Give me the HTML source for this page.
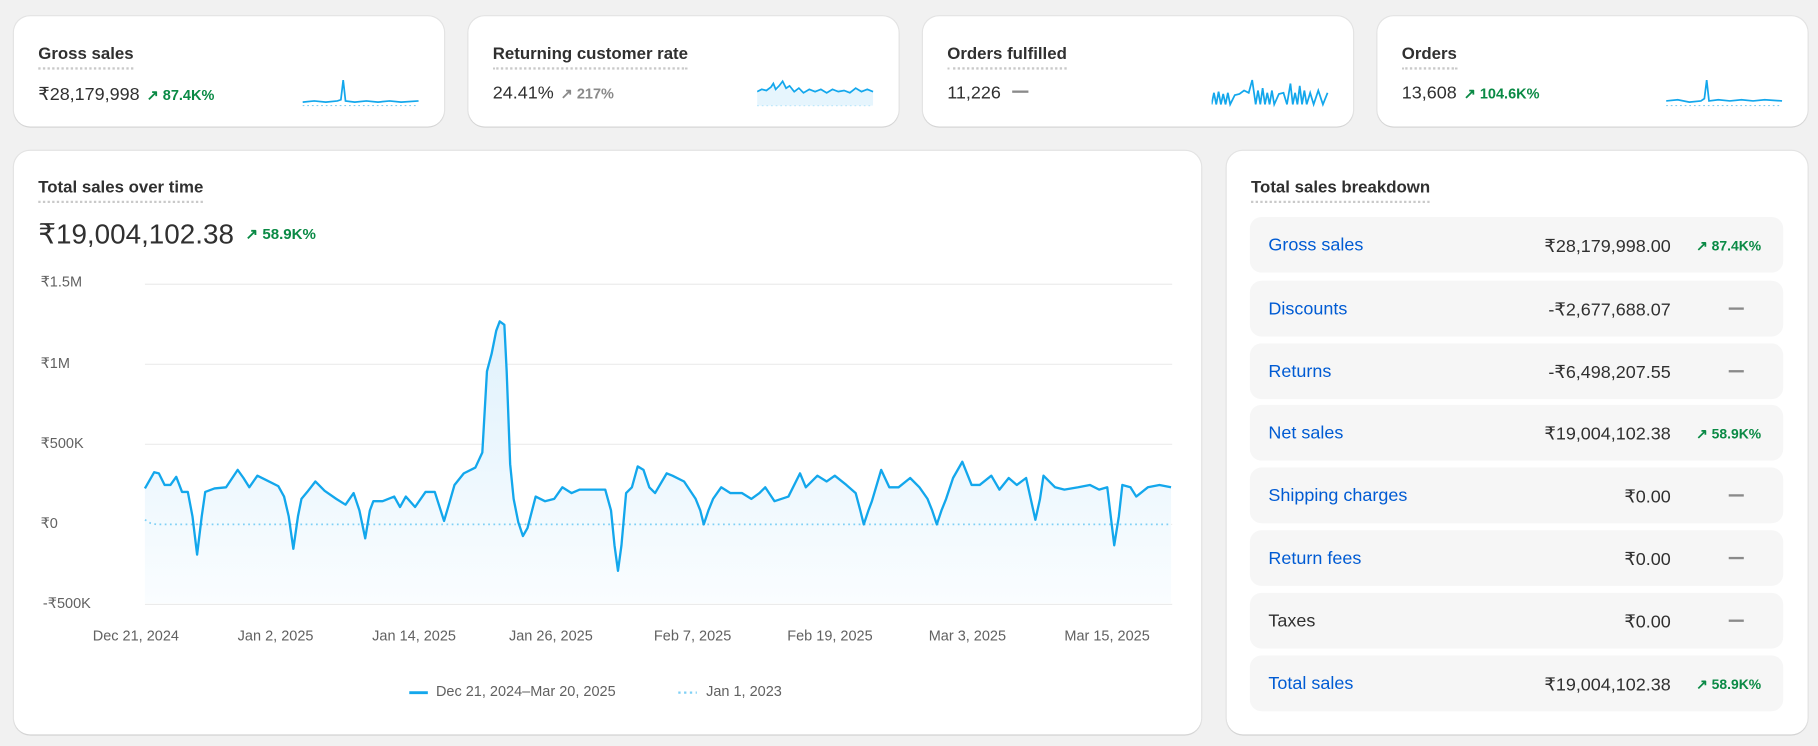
<!DOCTYPE html>
<html><head><meta charset="utf-8"><style>
*{margin:0;padding:0;box-sizing:border-box}
html,body{width:1818px;height:746px;overflow:hidden;background:#f1f1f1;font-family:"Liberation Sans",sans-serif;color:#303030}
#w{position:absolute;left:0;top:0;width:1568px;height:643px;transform:scale(1.15944,1.1602);transform-origin:0 0}
.card{position:absolute;background:#fff;border-radius:14px;box-shadow:0 1px 0 #d4d4d4,0 0 0 1px #e3e3e3}
.t{position:absolute;font-size:14.5px;font-weight:bold;color:#303030;border-bottom:2px dotted #c9c9c9;padding-bottom:3px;white-space:nowrap}
.v{position:absolute;font-size:15.5px;color:#303030;white-space:nowrap}
.g{color:#0a8a45;font-size:12.5px;font-weight:bold;margin-left:6px}
.gr{color:#8a8a8a;font-size:12.5px;font-weight:bold;margin-left:6px}
.ax{position:absolute;font-size:12.5px;color:#616161;white-space:nowrap}
.row{position:absolute;left:20px;width:460px;height:48px;background:#f6f6f6;border-radius:10px}
.row .l{position:absolute;left:16px;top:16px;font-size:15.5px;color:#005bd3}
.row .r{position:absolute;right:97px;top:16px;font-size:15.5px;color:#303030}
.row .b{position:absolute;right:19px;top:18px;font-size:12px;color:#0a8a45;font-weight:bold;white-space:nowrap}
.row .d{position:absolute;right:34px;top:23px;width:13px;height:2px;background:#8a8a8a}
</style></head><body><div id="w">

<div class="card" style="left:12px;top:14px;width:371px;height:95px">
<div class="t" style="left:21px;top:25px">Gross sales</div>
<div class="v" style="left:21px;top:58px">₹28,179,998<span class="g">↗ 87.4K%</span></div>
<svg style="position:absolute;left:249px;top:52px" width="102" height="30"><line x1="0" y1="25" x2="100" y2="25" stroke="#7fd0f5" stroke-dasharray="1.5 2.5"/><polyline fill="none" stroke="#13a7ec" stroke-width="1.5" points="0,22 10,21 20,22 30,21 33,20 35,3 37,21 45,22 55,21 65,22 75,21 85,22 100,21"/></svg>
</div>
<div class="card" style="left:404px;top:14px;width:371px;height:95px">
<div class="t" style="left:21px;top:25px">Returning customer rate</div>
<div class="v" style="left:21px;top:58px">24.41%<span class="gr">↗ 217%</span></div>
<svg style="position:absolute;left:249px;top:52px" width="102" height="30"><line x1="0" y1="25" x2="100" y2="25" stroke="#7fd0f5" stroke-dasharray="1.5 2.5"/><polygon fill="#e6f5fd" points="0,13 8,11 14,7 18,12 22,4 26,10 32,12 40,13 50,11 60,13 70,11 80,12 90,11 100,12 100,25 0,25"/><polyline fill="none" stroke="#13a7ec" stroke-width="1.5" points="0,13 4,11 8,12 12,9 14,6 16,11 19,8 22,4 25,10 28,8 32,13 36,10 40,14 45,11 50,13 55,11 60,14 65,11 70,13 75,12 80,14 85,10 90,13 95,11 100,13"/></svg>
</div>
<div class="card" style="left:796px;top:14px;width:371px;height:95px">
<div class="t" style="left:21px;top:25px">Orders fulfilled</div>
<div class="v" style="left:21px;top:58px">11,226<span style="display:inline-block;width:14px;height:2px;background:#8a8a8a;margin-left:10px;vertical-align:5px"></span></div>
<svg style="position:absolute;left:249px;top:52px" width="102" height="30"><polyline fill="none" stroke="#13a7ec" stroke-width="1.5" points="0,24 2,14 4,24 6,13 8,24 10,15 12,24 14,14 16,24 20,16 24,15 28,12 32,14 35,3 38,24 40,12 42,24 44,10 46,24 48,14 50,24 52,12 54,24 58,15 62,14 65,24 68,6 70,24 72,14 74,24 76,8 78,24 80,12 82,24 85,14 88,24 92,12 96,24 100,14"/></svg>
</div>
<div class="card" style="left:1188px;top:14px;width:371px;height:95px">
<div class="t" style="left:21px;top:25px">Orders</div>
<div class="v" style="left:21px;top:58px">13,608<span class="g">↗ 104.6K%</span></div>
<svg style="position:absolute;left:249px;top:52px" width="102" height="30"><line x1="0" y1="25" x2="100" y2="25" stroke="#7fd0f5" stroke-dasharray="1.5 2.5"/><polyline fill="none" stroke="#13a7ec" stroke-width="1.5" points="0,21 10,20 20,22 30,21 33,19 35,3 37,21 45,20 55,21 65,20 75,21 85,20 100,21"/></svg>
</div>

<div class="card" style="left:12px;top:130px;width:1024px;height:503px">
<div class="t" style="left:21px;top:24px">Total sales over time</div>
<div style="position:absolute;left:21px;top:58px;font-size:24px;color:#303030;white-space:nowrap">₹19,004,102.38<span class="g" style="font-size:13px;vertical-align:4px;margin-left:10px">↗ 58.9K%</span></div>
</div>
<div class="ax" style="left:35px;top:235px">₹1.5M</div>
<div class="ax" style="left:35px;top:305px">₹1M</div>
<div class="ax" style="left:35px;top:374px">₹500K</div>
<div class="ax" style="left:35px;top:443px">₹0</div>
<div class="ax" style="left:37px;top:512px">-₹500K</div>
<svg style="position:absolute;left:0;top:0" width="1568" height="643">
<g stroke="#ebebeb" stroke-width="1"><line x1="125" y1="245" x2="1011" y2="245"/><line x1="125" y1="314" x2="1011" y2="314"/><line x1="125" y1="383" x2="1011" y2="383"/><line x1="125" y1="452" x2="1011" y2="452"/><line x1="125" y1="521" x2="1011" y2="521"/></g>
<defs><linearGradient id="gf" x1="0" y1="0" x2="0" y2="1"><stop offset="0" stop-color="#dff1fc"/><stop offset="1" stop-color="#fafdff"/></linearGradient></defs>
<polygon fill="url(#gf)" points="125,421 133,407 137,408 142,418 147,418 152,411 157,424 162,424 166,445 170,478 174,445 177,424 185,421 195,420 205,405 210,412 215,420 222,410 230,414 240,419 245,428 249,445 253,473 257,445 260,430 265,424 272,415 280,423 290,430 298,435 305,425 310,440 315,464 319,440 322,432 330,432 340,428 345,437 350,428 358,437 367,424 375,424 383,449 388,432 392,418 400,408 410,403 416,390 420,320 424,305 428,285 431,277 435,280 437,320 440,400 443,430 447,450 451,462 455,455 462,428 470,432 478,430 485,420 493,425 500,422 510,422 522,422 527,440 530,470 533,492 536,470 540,425 545,420 550,402 555,405 560,420 565,425 575,408 580,410 590,415 600,430 604,440 607,452 611,440 615,430 622,420 630,425 640,425 648,430 655,425 660,420 668,432 680,428 690,408 695,420 705,410 713,415 720,410 730,418 738,425 742,440 745,452 749,440 752,432 760,405 767,420 775,420 785,412 793,420 800,430 804,440 808,452 812,440 816,430 822,412 830,398 838,418 845,418 855,410 862,422 870,412 877,418 885,412 889,430 893,448 897,430 900,410 910,420 918,422 930,420 940,418 948,422 955,420 958,445 961,470 965,445 968,418 975,420 980,428 990,420 1000,418 1010,420 1010,520 125,520"/>
<polyline fill="none" stroke="#7fd0f5" stroke-width="1.5" stroke-dasharray="1.5 3" points="125,448 130,451 135,452 1010,452"/>
<polyline fill="none" stroke="#13a7ec" stroke-width="2" stroke-linejoin="round" points="125,421 133,407 137,408 142,418 147,418 152,411 157,424 162,424 166,445 170,478 174,445 177,424 185,421 195,420 205,405 210,412 215,420 222,410 230,414 240,419 245,428 249,445 253,473 257,445 260,430 265,424 272,415 280,423 290,430 298,435 305,425 310,440 315,464 319,440 322,432 330,432 340,428 345,437 350,428 358,437 367,424 375,424 383,449 388,432 392,418 400,408 410,403 416,390 420,320 424,305 428,285 431,277 435,280 437,320 440,400 443,430 447,450 451,462 455,455 462,428 470,432 478,430 485,420 493,425 500,422 510,422 522,422 527,440 530,470 533,492 536,470 540,425 545,420 550,402 555,405 560,420 565,425 575,408 580,410 590,415 600,430 604,440 607,452 611,440 615,430 622,420 630,425 640,425 648,430 655,425 660,420 668,432 680,428 690,408 695,420 705,410 713,415 720,410 730,418 738,425 742,440 745,452 749,440 752,432 760,405 767,420 775,420 785,412 793,420 800,430 804,440 808,452 812,440 816,430 822,412 830,398 838,418 845,418 855,410 862,422 870,412 877,418 885,412 889,430 893,448 897,430 900,410 910,420 918,422 930,420 940,418 948,422 955,420 958,445 961,470 965,445 968,418 975,420 980,428 990,420 1000,418 1010,420"/>
<line x1="353" y1="597" x2="369" y2="597" stroke="#13a7ec" stroke-width="2.5"/>
<line x1="585" y1="597" x2="601" y2="597" stroke="#7fd0f5" stroke-width="2" stroke-dasharray="2 3"/>
</svg>
<div class="ax" style="left:80px;top:541px">Dec 21, 2024</div>
<div class="ax" style="left:205px;top:541px">Jan 2, 2025</div>
<div class="ax" style="left:321px;top:541px">Jan 14, 2025</div>
<div class="ax" style="left:439px;top:541px">Jan 26, 2025</div>
<div class="ax" style="left:564px;top:541px">Feb 7, 2025</div>
<div class="ax" style="left:679px;top:541px">Feb 19, 2025</div>
<div class="ax" style="left:801px;top:541px">Mar 3, 2025</div>
<div class="ax" style="left:918px;top:541px">Mar 15, 2025</div>
<div class="ax" style="left:376px;top:589px">Dec 21, 2024–Mar 20, 2025</div>
<div class="ax" style="left:609px;top:589px">Jan 1, 2023</div>

<div class="card" style="left:1058px;top:130px;width:501px;height:503px">
<div class="t" style="left:21px;top:24px">Total sales breakdown</div>
<div class="row" style="top:57px"><span class="l">Gross sales</span><span class="r">₹28,179,998.00</span><span class="b">↗ 87.4K%</span></div>
<div class="row" style="top:112px"><span class="l">Discounts</span><span class="r">-₹2,677,688.07</span><span class="d"></span></div>
<div class="row" style="top:166px"><span class="l">Returns</span><span class="r">-₹6,498,207.55</span><span class="d"></span></div>
<div class="row" style="top:219px"><span class="l">Net sales</span><span class="r">₹19,004,102.38</span><span class="b">↗ 58.9K%</span></div>
<div class="row" style="top:273px"><span class="l">Shipping charges</span><span class="r">₹0.00</span><span class="d"></span></div>
<div class="row" style="top:327px"><span class="l">Return fees</span><span class="r">₹0.00</span><span class="d"></span></div>
<div class="row" style="top:381px"><span class="l" style="color:#303030">Taxes</span><span class="r">₹0.00</span><span class="d"></span></div>
<div class="row" style="top:435px"><span class="l">Total sales</span><span class="r">₹19,004,102.38</span><span class="b">↗ 58.9K%</span></div>
</div>
</div></body></html>
